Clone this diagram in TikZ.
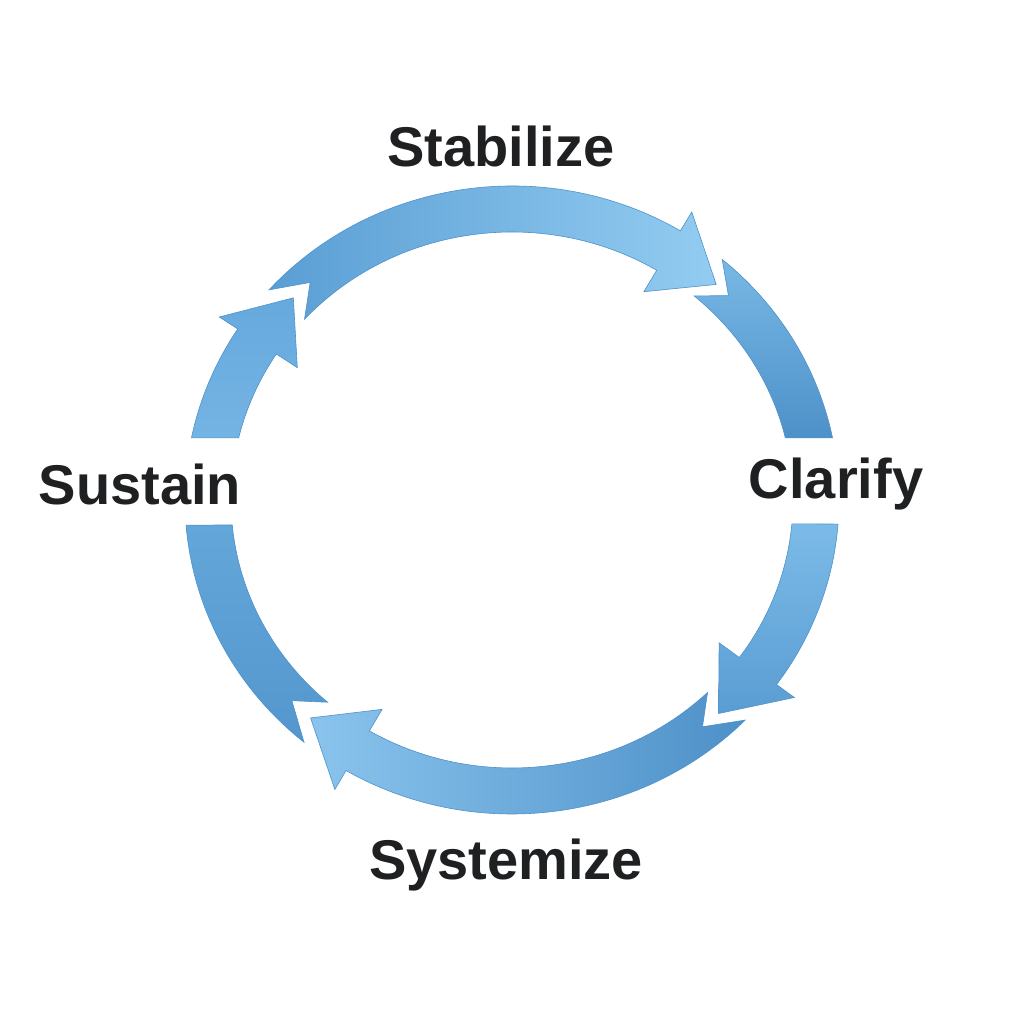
\documentclass[tikz,border=0pt]{standalone}
\usepackage{fontspec}
\setmainfont{Liberation Sans}
\usetikzlibrary{calc}
\definecolor{txt}{HTML}{1E2022}
\definecolor{edgeblue}{HTML}{4E92CA}
\definecolor{tA}{HTML}{5A9ED4}
\definecolor{tB}{HTML}{93CCF1}
\definecolor{ruA}{HTML}{78B8E5}
\definecolor{ruB}{HTML}{4D91C9}
\definecolor{rlA}{HTML}{7CBBE8}
\definecolor{rlB}{HTML}{5A9DD3}
\definecolor{bA}{HTML}{8AC4ED}
\definecolor{bB}{HTML}{4D90C8}
\definecolor{llA}{HTML}{63A6D9}
\definecolor{llB}{HTML}{5497CE}
\definecolor{luA}{HTML}{74B4E4}
\definecolor{luB}{HTML}{66A9DD}
\tikzset{
  piece/.style={draw=edgeblue, line width=0.6pt, line join=miter},
  lbl/.style={font=\fontsize{56}{67}\selectfont\bfseries, text=txt, inner sep=0pt, anchor=base}
}
% outer (327,314), inner (281,268), mid (304,291), barbs outer (349,336), inner (256,243)
\newcommand{\OP}[1]{($(C)+(#1:327pt and 314pt)$)}
\newcommand{\IP}[1]{($(C)+(#1:281pt and 268pt)$)}
\newcommand{\MP}[1]{($(C)+(#1:304pt and 291pt)$)}
\newcommand{\BO}[1]{($(C)+(#1:349pt and 336pt)$)}
\newcommand{\BI}[1]{($(C)+(#1:256pt and 243pt)$)}
\begin{document}
\begin{tikzpicture}
\useasboundingbox (0pt,0pt) rectangle (1024pt,1024pt);
\fill[white] (0pt,0pt) rectangle (1024pt,1024pt);
\coordinate (C) at (512pt,524pt);

% left-upper piece (from Sustain up to head)
\shade[piece, bottom color=luA, top color=luB]
  \OP{168.6} arc[start angle=168.6, end angle=147, x radius=327pt, y radius=314pt]
  -- \BO{147} -- \MP{136} -- \BI{147} -- \IP{147}
  arc[start angle=147, end angle=166.6, x radius=281pt, y radius=268pt] -- cycle;

% top arrow
\shade[piece, left color=tA, right color=tB]
  \OP{138} arc[start angle=138, end angle=59, x radius=327pt, y radius=314pt]
  -- \BO{59} -- \MP{47.8} -- \BI{59} -- \IP{59}
  arc[start angle=59, end angle=137.6, x radius=281pt, y radius=268pt]
  -- \MP{131.6} -- cycle;

% right-upper piece
\shade[piece, top color=ruA, bottom color=ruB]
  \OP{50} arc[start angle=50, end angle=11.4, x radius=327pt, y radius=314pt]
  -- \IP{13.4}
  arc[start angle=13.4, end angle=49.6, x radius=281pt, y radius=268pt]
  -- \MP{44.6} -- cycle;

% right-lower piece
\shade[piece, top color=rlA, bottom color=rlB]
  \OP{-4.4} arc[start angle=-4.4, end angle=-36, x radius=327pt, y radius=314pt]
  -- \BO{-36} -- \MP{-47.2} -- \BI{-36} -- \IP{-36}
  arc[start angle=-36, end angle=-5.1, x radius=281pt, y radius=268pt] -- cycle;

% bottom arrow
\shade[piece, left color=bA, right color=bB]
  \OP{-44.5} arc[start angle=-44.5, end angle=-120.5, x radius=327pt, y radius=314pt]
  -- \BO{-120.5} -- \MP{-131.5} -- \BI{-120.5} -- \IP{-120.5}
  arc[start angle=-120.5, end angle=-45.9, x radius=281pt, y radius=268pt]
  -- \MP{-51.2} -- cycle;

% left-lower piece
\shade[piece, top color=llA, bottom color=llB]
  \OP{230.5} arc[start angle=230.5, end angle=184.6, x radius=327pt, y radius=314pt]
  -- \IP{185.35}
  arc[start angle=185.35, end angle=229, x radius=281pt, y radius=268pt]
  -- \MP{223.6} -- cycle;

\node[lbl] (stab) at (501pt,857pt) {Stabilize};
\node[lbl] (clar) at (836pt,525pt) {Clarify};
\node[lbl] (syst) at (506pt,144pt) {Systemize};
\node[lbl] (sust) at (140pt,519pt) {Sustain};
\end{tikzpicture}
\end{document}
